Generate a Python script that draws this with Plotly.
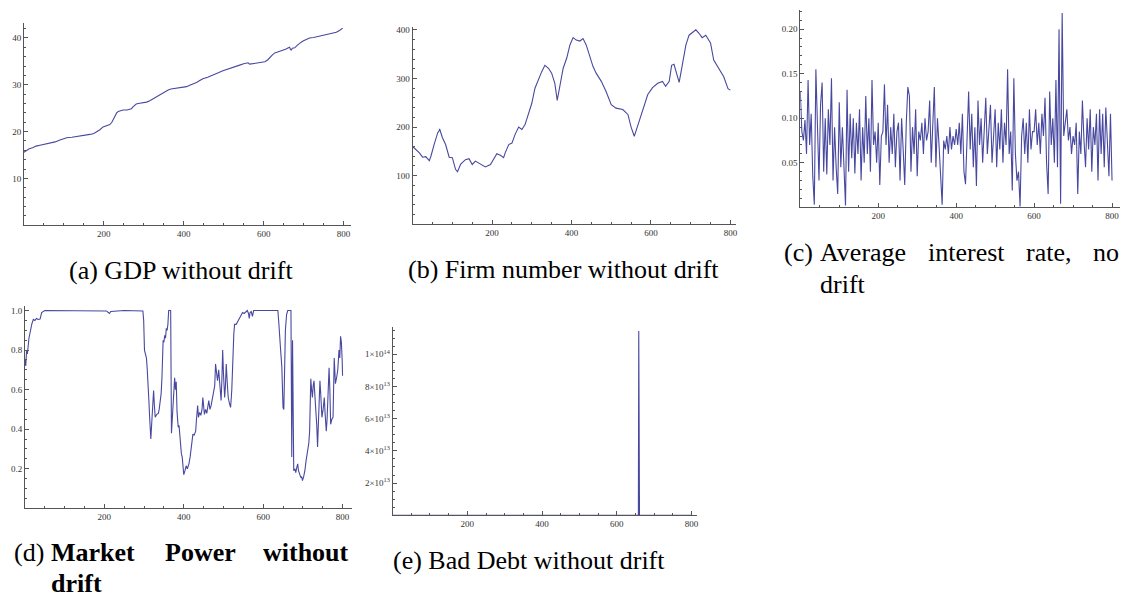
import plotly.graph_objects as go

# ---------------- DATA ----------------
gdp_x = [0, 5, 12, 23, 30, 40, 52, 65, 78, 90, 100, 107, 120, 130, 140, 152, 165, 175, 182, 190,
         198, 207, 215, 220, 223, 228, 232, 236, 242, 248, 258, 265, 269, 273, 277, 281, 286, 295, 307, 315,
         323, 332, 340, 348, 355, 361, 368, 378, 390, 400, 407, 415, 425, 432, 440, 448, 460, 473, 485, 498,
         510, 523, 532, 540, 550, 561, 565, 575, 586, 595, 603, 610, 615, 622, 628, 632, 640, 648, 655, 662,
         665, 667, 669, 672, 678, 684, 690, 694, 700, 708, 715, 725, 740, 752, 765, 775, 782, 790, 798]
gdp_y = [15.6, 15.9, 16.3, 16.6, 16.9, 17.1, 17.3, 17.5, 17.8, 18.2, 18.5, 18.7, 18.8, 18.9, 19.0, 19.2, 19.4, 19.6, 19.9, 20.4,
         21.0, 21.3, 21.5, 22.0, 22.6, 23.4, 24.0, 24.3, 24.5, 24.6, 24.6, 24.8, 24.9, 25.3, 25.6, 25.9, 26.0, 26.1, 26.3, 26.6,
         27.0, 27.4, 27.8, 28.2, 28.7, 28.9, 29.1, 29.2, 29.3, 29.5, 29.6, 29.9, 30.2, 30.5, 30.9, 31.3, 31.6, 32.0, 32.5, 33.0,
         33.3, 33.7, 34.0, 34.2, 34.5, 34.7, 34.4, 34.5, 34.6, 34.7, 34.9, 35.3, 35.8, 36.4, 36.8, 36.9, 37.1, 37.3, 37.6, 37.9,
         38.0, 37.6, 37.4, 37.8, 37.9, 38.4, 38.9, 39.1, 39.4, 39.7, 40.0, 40.1, 40.4, 40.6, 40.8, 41.0, 41.2, 41.6, 42.1]

firm_x = [0, 8, 17, 25, 33, 42, 46, 54, 63, 67, 68, 75, 83, 92, 100, 108, 113, 121, 133, 142,
          150, 158, 171, 183, 196, 204, 212, 221, 229, 233, 242, 250, 258, 267, 275, 283, 292, 300, 308, 317,
          325, 333, 342, 350, 358, 364, 371, 379, 388, 396, 404, 412, 421, 429, 437, 446, 454, 462, 475, 487,
          500, 512, 529, 542, 550, 558, 567, 579, 592, 604, 617, 629, 637, 646, 652, 658, 665, 671, 679, 688,
          696, 713, 721, 729, 738, 750, 758, 771, 783, 794, 800]
firm_y = [160, 154, 147, 138, 139, 131, 140, 164, 188, 193, 196, 178, 164, 138, 137, 113, 108, 124, 133, 135,
          123, 130, 123, 118, 123, 133, 145, 142, 137, 147, 164, 167, 185, 200, 195, 205, 226, 249, 280, 300,
          314, 327, 321, 311, 290, 255, 287, 321, 342, 369, 384, 379, 377, 382, 369, 348, 325, 311, 294, 273,
          246, 239, 236, 226, 200, 181, 205, 232, 267, 281, 290, 294, 284, 294, 327, 329, 311, 292, 328, 369,
          389, 400, 393, 384, 389, 373, 338, 321, 304, 279, 276]

rate_x = list(range(0, 801, 4))
rate_y = [0.130, 0.085, 0.075, 0.098, 0.060, 0.143, 0.070, 0.105, 0.035, 0.003,
          0.155, 0.090, 0.030, 0.115, 0.140, 0.040, 0.100, 0.037, 0.110, 0.070,
          0.145, 0.030, 0.090, 0.045, 0.015, 0.118, 0.045, 0.090, 0.040, 0.002,
          0.132, 0.040, 0.105, 0.055, 0.100, 0.038, 0.095, 0.060, 0.110, 0.030,
          0.090, 0.050, 0.125, 0.060, 0.100, 0.040, 0.143, 0.070, 0.085, 0.050,
          0.095, 0.025, 0.080, 0.085, 0.138, 0.070, 0.115, 0.050, 0.090, 0.060,
          0.105, 0.045, 0.085, 0.095, 0.030, 0.100, 0.065, 0.025, 0.095, 0.135,
          0.125, 0.040, 0.090, 0.060, 0.110, 0.035, 0.085, 0.075, 0.095, 0.060,
          0.100, 0.075, 0.085, 0.120, 0.050, 0.090, 0.135, 0.045, 0.100, 0.070,
          0.040, 0.003, 0.075, 0.065, 0.080, 0.060, 0.090, 0.065, 0.080, 0.070,
          0.088, 0.070, 0.095, 0.060, 0.105, 0.040, 0.026, 0.090, 0.130, 0.065,
          0.105, 0.045, 0.090, 0.024, 0.120, 0.070, 0.100, 0.050, 0.085, 0.123,
          0.060, 0.090, 0.115, 0.050, 0.080, 0.110, 0.045, 0.095, 0.065, 0.110,
          0.050, 0.095, 0.070, 0.155, 0.060, 0.085, 0.019, 0.145, 0.060, 0.030,
          0.040, 0.001, 0.080, 0.100, 0.060, 0.095, 0.050, 0.110, 0.065, 0.085,
          0.085, 0.110, 0.070, 0.095, 0.060, 0.105, 0.080, 0.123, 0.050, 0.015,
          0.130, 0.070, 0.100, 0.050, 0.143, 0.045, 0.200, 0.004, 0.218, 0.080,
          0.095, 0.110, 0.075, 0.090, 0.060, 0.080, 0.070, 0.095, 0.015, 0.085,
          0.060, 0.120, 0.075, 0.045, 0.100, 0.065, 0.110, 0.040, 0.090, 0.070,
          0.105, 0.030, 0.110, 0.060, 0.105, 0.045, 0.112, 0.070, 0.035, 0.105,
          0.030]

power_x = [0, 2, 4, 6, 10, 13, 17, 21, 25, 29, 33, 38, 42, 50, 100, 150, 205, 210, 213, 216,
           250, 297, 299, 301, 304, 306, 308, 310, 312, 314, 317, 319, 321, 324, 326, 328, 332, 336, 338, 341,
           343, 345, 348, 350, 352, 354, 356, 358, 360, 362, 367, 369, 371, 373, 375, 377, 379, 381, 383, 386,
           388, 390, 394, 396, 398, 400, 403, 406, 409, 413, 416, 419, 423, 426, 430, 432, 435, 437, 440, 443,
           446, 448, 450, 452, 455, 458, 463, 466, 469, 472, 475, 478, 480, 483, 485, 488, 491, 494, 496, 498,
           500, 503, 505, 507, 510, 512, 515, 518, 521, 523, 526, 528, 532, 536, 540, 544, 548, 552, 556, 560,
           563, 565, 567, 570, 573, 576, 600, 620, 637, 639, 641, 644, 647, 649, 650, 652, 654, 656, 659, 662,
           670, 672, 674, 675, 677, 680, 682, 685, 687, 689, 691, 693, 695, 697, 699, 702, 705, 708, 712, 715,
           717, 719, 720, 722, 724, 726, 728, 730, 733, 735, 737, 739, 741, 743, 745, 748, 751, 754, 756, 759,
           761, 763, 766, 768, 770, 773, 776, 779, 782, 785, 788, 791, 793, 795, 797, 799, 800]
power_y = [0.75, 0.72, 0.80, 0.78, 0.86, 0.895, 0.93, 0.955, 0.95, 0.96, 0.955, 0.957, 0.99, 1.0, 1.0, 0.998, 0.998, 0.99, 0.985, 0.995,
           1.0, 0.998, 0.95, 0.80, 0.77, 0.76, 0.70, 0.64, 0.55, 0.46, 0.35, 0.42, 0.49, 0.595, 0.52, 0.46, 0.475, 0.48, 0.50, 0.54,
           0.58, 0.66, 0.85, 0.84, 0.875, 0.86, 0.91, 0.90, 0.93, 1.0, 1.0, 0.38, 0.45, 0.51, 0.62, 0.66, 0.60, 0.64, 0.49, 0.41,
           0.42, 0.35, 0.275, 0.26, 0.225, 0.17, 0.19, 0.215, 0.20, 0.225, 0.26, 0.31, 0.375, 0.37, 0.39, 0.45, 0.52, 0.46, 0.485, 0.47,
           0.50, 0.56, 0.52, 0.475, 0.50, 0.48, 0.545, 0.50, 0.52, 0.56, 0.595, 0.62, 0.73, 0.66, 0.645, 0.70, 0.62, 0.545, 0.65, 0.80,
           0.68, 0.56, 0.62, 0.73, 0.62, 0.56, 0.53, 0.51, 0.60, 0.76, 0.88, 0.93, 0.93, 0.945, 0.96, 0.975, 0.99, 0.985, 0.995, 1.0,
           0.985, 0.96, 0.99, 0.995, 0.97, 1.0, 1.0, 0.998, 1.0, 0.95, 0.865, 0.80, 0.715, 0.55, 0.51, 0.50, 0.70, 0.90, 0.98, 1.0,
           1.0, 0.26, 0.85, 0.70, 0.19, 0.20, 0.18, 0.21, 0.225, 0.19, 0.18, 0.17, 0.155, 0.16, 0.14, 0.16, 0.19, 0.24, 0.29, 0.33,
           0.39, 0.55, 0.655, 0.60, 0.56, 0.62, 0.645, 0.58, 0.51, 0.42, 0.31, 0.45, 0.58, 0.645, 0.58, 0.46, 0.50, 0.56, 0.48, 0.39,
           0.45, 0.55, 0.71, 0.60, 0.425, 0.45, 0.46, 0.76, 0.63, 0.66, 0.70, 0.80, 0.76, 0.87, 0.84, 0.75, 0.67]

debt_x = [1, 657, 658, 659, 660, 661, 800]
debt_y = [0, 0, 0, 1.145e14, 0, 0, 0]

x_ticks = [200, 400, 600, 800]
gdp_ticks = [10, 20, 30, 40]
firm_ticks = [100, 200, 300, 400]
rate_ticks = [0.05, 0.10, 0.15, 0.20]
rate_labels = ["0.05", "0.10", "0.15", "0.20"]
power_ticks = [0.2, 0.4, 0.6, 0.8, 1.0]
power_labels = ["0.2", "0.4", "0.6", "0.8", "1.0"]
debt_ticks = [2e13, 4e13, 6e13, 8e13, 1e14]
debt_labels = ["2\u00d710<sup>13</sup>", "4\u00d710<sup>13</sup>", "6\u00d710<sup>13</sup>",
               "8\u00d710<sup>13</sup>", "1\u00d710<sup>14</sup>"]

# ---------------- LAYOUT ----------------
# The page body has an 8px default margin, so the figure is drawn 8px in from
# the window's top-left corner; positions below are window pixels.
OFF = 8
WIN_W, WIN_H = 1128, 596
W, H = WIN_W - OFF, WIN_H - OFF
LINE = "#4848a0"
AX = "#555555"
TF = dict(family="Liberation Serif", size=9, color="#333333")


def clamp(v):
    return min(1.0, max(0.0, v))


def px_x(p):
    return (p - OFF) / W


def px_y(p):
    return 1 - (p - OFF) / H


def xax(left, right, rng, anchor):
    return dict(domain=[clamp(px_x(left)), clamp(px_x(right))], range=rng, anchor=anchor,
                showline=True, linecolor=AX, linewidth=1, showgrid=False, zeroline=False,
                ticks="inside", ticklen=4, tickcolor=AX, tickmode="array",
                tickvals=x_ticks, ticktext=[str(v) for v in x_ticks], tickfont=TF,
                minor=dict(ticks="inside", ticklen=2, tickcolor=AX, tickmode="linear",
                           tick0=0, dtick=50, showgrid=False))


def yax(top, bottom, rng, anchor, vals, texts, mdt):
    return dict(domain=[clamp(px_y(bottom)), clamp(px_y(top))], range=rng, anchor=anchor,
                showline=True, linecolor=AX, linewidth=1, showgrid=False, zeroline=False,
                ticks="inside", ticklen=4, tickcolor=AX, tickmode="array",
                tickvals=vals, ticktext=texts, tickfont=TF,
                minor=dict(ticks="inside", ticklen=2, tickcolor=AX, tickmode="linear",
                           tick0=0, dtick=mdt, showgrid=False))


fig = go.Figure()
series = [(gdp_x, gdp_y, "x", "y"), (firm_x, firm_y, "x2", "y2"), (rate_x, rate_y, "x3", "y3"),
          (power_x, power_y, "x4", "y4"), (debt_x, debt_y, "x5", "y5")]
for xs, ys, xa, ya in series:
    fig.add_trace(go.Scatter(x=xs, y=ys, mode="lines", xaxis=xa, yaxis=ya,
                             line=dict(color=LINE, width=1.1), hoverinfo="skip", showlegend=False))

fig.update_layout(
    width=W, height=H, margin=dict(l=0, r=0, t=0, b=0),
    paper_bgcolor="white", plot_bgcolor="white", showlegend=False,
    xaxis=xax(24, 351, [0, 818], "y"),
    yaxis=yax(21, 224, [0, 43.2], "x", gdp_ticks, [str(v) for v in gdp_ticks], 2),
    xaxis2=xax(413, 737, [0, 815], "y2"),
    yaxis2=yax(25, 223, [0, 406], "x2", firm_ticks, [str(v) for v in firm_ticks], 20),
    xaxis3=xax(801, 1122, [0, 823], "y3"),
    yaxis3=yax(8, 206, [0, 0.2215], "x3", rate_ticks, rate_labels, 0.01),
    xaxis4=xax(25, 352, [0, 823], "y4"),
    yaxis4=yax(305, 508, [0, 1.023], "x4", power_ticks, power_labels, 0.05),
    xaxis5=xax(393, 698, [0, 816], "y5"),
    yaxis5=yax(326, 515, [0, 1.17e14], "x5", debt_ticks, debt_labels, 5e12),
)

CF = dict(family="Liberation Serif", size=26, color="black")


def cap(text, x, y, xanchor):
    fig.add_annotation(text=text, x=px_x(x), y=px_y(y), xref="paper", yref="paper",
                       xanchor=xanchor, yanchor="middle", showarrow=False, font=CF)


cap("(a) GDP without drift", 181, 269, "center")
cap("(b) Firm number without drift", 564, 268, "center")
cap("(c)", 783, 251, "left")
cap("Average", 819, 251, "left")
cap("interest", 927, 251, "left")
cap("rate,", 1025, 251, "left")
cap("no", 1122, 251, "right")
cap("drift", 819, 283, "left")
cap("(d)", 12, 552, "left")
cap("<b>Market</b>", 49, 552, "left")
cap("<b>Power</b>", 163, 552, "left")
cap("<b>without</b>", 351, 552, "right")
cap("<b>drift</b>", 49, 583, "left")
cap("(e) Bad Debt without drift", 529, 560, "center")

fig.write_html("out.html")
